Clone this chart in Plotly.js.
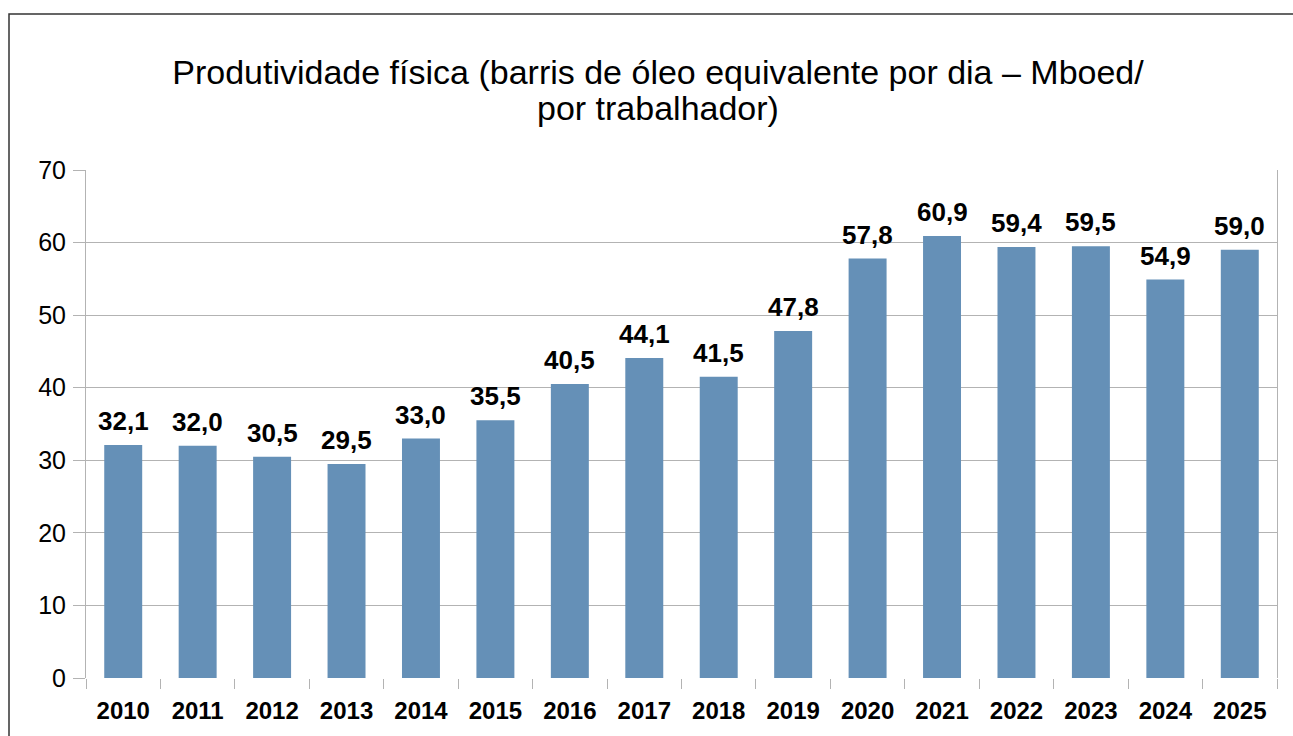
<!DOCTYPE html>
<html>
<head>
<meta charset="utf-8">
<script src="https://cdn.plot.ly/plotly-3.0.1.min.js"></script>
<style>
html,body{margin:0;padding:0;background:#fff;}
#chart{width:1293px;height:736px;}
</style>
</head>
<body>
<div id="chart"></div>
<script>
const years = ['2010','2011','2012','2013','2014','2015','2016','2017','2018','2019','2020','2021','2022','2023','2024','2025'];
const productivity = [32.1, 32.0, 30.5, 29.5, 33.0, 35.5, 40.5, 44.1, 41.5, 47.8, 57.8, 60.9, 59.4, 59.5, 54.9, 59.0];
const yTicks = [0, 10, 20, 30, 40, 50, 60, 70];
const titleLine1 = 'Produtividade física (barris de óleo equivalente por dia – Mboed/';
const titleLine2 = 'por trabalhador)';

const FONT = 'Liberation Sans, Arial, sans-serif';
const GRID = '#b3b3b3';
const L = 86, R = 16, T = 170, B = 58, W = 1293, H = 736;
const PW = W - L - R, PH = H - T - B;

const trace = {
  type: 'bar',
  x: years,
  y: productivity,
  marker: {color: '#6590b7'},
  hoverinfo: 'skip'
};

// value labels above bars (category index used as position on the category axis)
const labelAnnotations = years.map((yr, i) => ({
  x: i, y: productivity[i], xref: 'x', yref: 'y',
  text: '<b>' + productivity[i].toFixed(1).replace('.', ',') + '</b>',
  showarrow: false, xanchor: 'center', yanchor: 'bottom', yshift: 7,
  font: {family: FONT, size: 26, color: '#000'}
}));

const layout = {
  width: W, height: H,
  margin: {l: L, r: R, t: T, b: B, pad: 0},
  paper_bgcolor: '#fff', plot_bgcolor: '#fff',
  font: {family: FONT, color: '#000'},
  showlegend: false,
  bargap: 0.49,
  title: {
    text: titleLine1,
    font: {family: FONT, size: 34, color: '#000'},
    xref: 'container', x: 658 / W, xanchor: 'center',
    yref: 'container', y: 1 - 72 / H, yanchor: 'middle'
  },
  annotations: [{
    text: titleLine2, showarrow: false,
    xref: 'paper', x: (658 - L) / PW, xanchor: 'center',
    yref: 'paper', y: 1 + (T - 108) / PH, yanchor: 'middle',
    font: {family: FONT, size: 34, color: '#000'}
  }].concat(labelAnnotations),
  xaxis: {
    type: 'category',
    categoryorder: 'array', categoryarray: years,
    range: [-0.5, years.length - 0.5],
    tickson: 'boundaries',
    ticks: 'outside', ticklen: 10, tickcolor: GRID, tickwidth: 1,
    showgrid: false, zeroline: false,
    showline: false,
    tickangle: 0,
    tickfont: {family: FONT, size: 24, color: '#000', weight: 'bold'},
    ticklabelstandoff: 16
  },
  yaxis: {
    range: [0, 70],
    tickvals: yTicks,
    ticks: 'outside', ticklen: 12, tickcolor: GRID, tickwidth: 1,
    showgrid: true, gridcolor: GRID, gridwidth: 1,
    zeroline: false,
    showline: true, mirror: true, linecolor: GRID, linewidth: 1,
    tickfont: {family: FONT, size: 25, color: '#000'},
    ticklabelstandoff: 2
  },
  shapes: [{
    type: 'rect', xref: 'paper', yref: 'paper',
    x0: (9 - L) / PW, x1: 1.1,
    y0: -0.3, y1: 1 + (T - 14) / PH,
    line: {color: '#333', width: 1.5},
    fillcolor: 'rgba(0,0,0,0)',
    layer: 'below'
  }]
};

Plotly.newPlot('chart', [trace], layout, {displayModeBar: false, staticPlot: true});
</script>
</body>
</html>
